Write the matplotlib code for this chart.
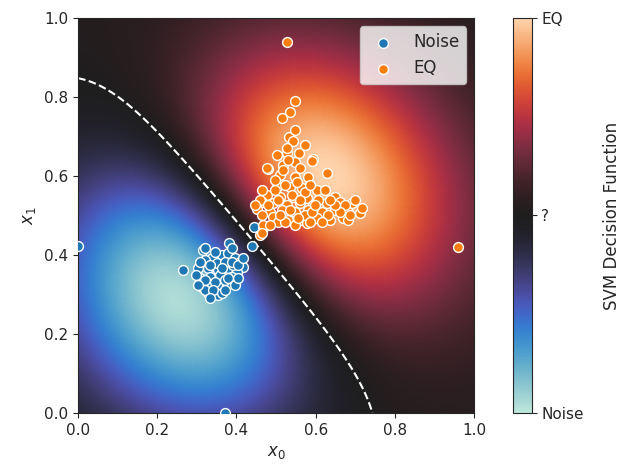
import numpy as np
import matplotlib.pyplot as plt
import seaborn as sns

sns.set_style("ticks")

# Noise samples (x0, x1)
noise_x0 = [0.381, 0.439, 0.444, 0.265, 0.316, 0.338, 0.364, 0.379, 0.396, 0.409, 0.417,
            0.303, 0.328, 0.354, 0.379, 0.402, 0.308, 0.333, 0.359, 0.389, 0.313, 0.338,
            0.351, 0.364, 0.376, 0.328, 0.354, 0.346, 0.371, 0.321, 0.351, 0.371, 0.391,
            0.000, 0.371,
            0.321, 0.346, 0.389, 0.308, 0.333, 0.364, 0.389, 0.404, 0.298, 0.321, 0.379,
            0.396, 0.321, 0.341, 0.364, 0.333, 0.417, 0.303, 0.371, 0.404]
noise_x1 = [0.430, 0.423, 0.471, 0.362, 0.413, 0.392, 0.400, 0.405, 0.392, 0.382, 0.370,
            0.367, 0.367, 0.362, 0.367, 0.357, 0.342, 0.344, 0.349, 0.344, 0.319, 0.324,
            0.316, 0.319, 0.324, 0.304, 0.299, 0.332, 0.337, 0.387, 0.380, 0.382, 0.375,
            0.423, 0.000,
            0.418, 0.408, 0.418, 0.382, 0.375, 0.367, 0.382, 0.375, 0.349, 0.337, 0.342,
            0.324, 0.311, 0.311, 0.304, 0.291, 0.392, 0.324, 0.311, 0.342]

# EQ samples (x0, x1)
eq_x0 = [0.528, 0.960, 0.548, 0.535, 0.515, 0.533, 0.543, 0.528, 0.503, 0.558, 0.593,
         0.591, 0.629, 0.480, 0.518, 0.548, 0.510, 0.548, 0.581, 0.503, 0.535, 0.566,
         0.604, 0.477, 0.510, 0.543, 0.578, 0.649, 0.465, 0.492, 0.528, 0.561, 0.593,
         0.629, 0.662, 0.692, 0.452, 0.485, 0.515, 0.548, 0.581, 0.616, 0.649, 0.682,
         0.712, 0.492, 0.530, 0.566, 0.604, 0.636, 0.669, 0.505, 0.578, 0.467, 0.460,
         0.682, 0.477, 0.460, 0.467, 0.465,
         0.497, 0.523, 0.553, 0.573, 0.606, 0.674, 0.699, 0.717, 0.480, 0.505, 0.535,
         0.573, 0.591, 0.631, 0.662, 0.523, 0.548, 0.616, 0.465, 0.485, 0.518, 0.561,
         0.530, 0.573, 0.528, 0.548, 0.540, 0.586, 0.624, 0.649, 0.561, 0.598, 0.497,
         0.465, 0.447, 0.636, 0.687, 0.556, 0.586, 0.510]
eq_x1 = [0.939, 0.420, 0.790, 0.762, 0.747, 0.699, 0.689, 0.658, 0.653, 0.658, 0.643,
         0.638, 0.608, 0.618, 0.628, 0.635, 0.603, 0.597, 0.597, 0.572, 0.572, 0.570,
         0.565, 0.552, 0.547, 0.547, 0.544, 0.547, 0.534, 0.532, 0.527, 0.532, 0.527,
         0.532, 0.534, 0.532, 0.516, 0.509, 0.514, 0.509, 0.514, 0.509, 0.514, 0.509,
         0.506, 0.496, 0.489, 0.489, 0.494, 0.489, 0.494, 0.484, 0.481, 0.468, 0.451,
         0.489, 0.620, 0.539, 0.476, 0.456,
         0.565, 0.577, 0.585, 0.559, 0.539, 0.527, 0.539, 0.519, 0.527, 0.539, 0.514,
         0.501, 0.509, 0.501, 0.509, 0.484, 0.476, 0.484, 0.501, 0.476, 0.615, 0.620,
         0.641, 0.678, 0.671, 0.716, 0.552, 0.577, 0.565, 0.527, 0.539, 0.527, 0.590,
         0.565, 0.527, 0.539, 0.501, 0.494, 0.484, 0.501]

# fit a small RBF SVM (dual coordinate ascent, bias folded into the kernel)
X = np.column_stack([noise_x0 + eq_x0, noise_x1 + eq_x1])
y = np.array([-1.0] * len(noise_x0) + [1.0] * len(eq_x0))
gamma, C, n_sweeps = 8.0, 3.0, 300

def kern(A, B):
    d = ((A[:, None, :] - B[None, :, :]) ** 2).sum(-1)
    return np.exp(-gamma * d) + 1.0

Q = np.outer(y, y) * kern(X, X)
alpha = np.zeros(len(y))
for sweep in range(n_sweeps):
    for i in range(len(y)):
        g = 1.0 - Q[i] @ alpha
        alpha[i] = np.clip(alpha[i] + g / Q[i, i], 0.0, C)

grid = np.linspace(0, 1, 300)
gx, gy = np.meshgrid(grid, grid)
G = np.column_stack([gx.ravel(), gy.ravel()])
Z = (kern(G, X) @ (alpha * y)).reshape(gx.shape)
lim = np.abs(Z).max()

fig = plt.figure(figsize=(6.24, 4.72), dpi=100)
ax = fig.add_axes([0.125, 0.125, 0.635, 0.837])
cax = fig.add_axes([0.822, 0.125, 0.030, 0.837])

im = ax.imshow(Z, extent=[0, 1, 0, 1], origin="lower", cmap="icefire",
               vmin=-lim, vmax=lim, aspect="auto", interpolation="bilinear")
ax.contour(gx, gy, Z, levels=[0], colors="white", linestyles="--", linewidths=1.5)

ax.scatter(noise_x0, noise_x1, s=50, color="#1f77b4", edgecolor="white", linewidth=1, label="Noise", zorder=3)
ax.scatter(eq_x0, eq_x1, s=50, color="#ff7f0e", edgecolor="white", linewidth=1, label="EQ", zorder=3)

ax.set_xlim(0, 1)
ax.set_ylim(0, 1)
ax.set_xlabel("$x_0$", fontsize=12)
ax.set_ylabel("$x_1$", fontsize=12)
ax.tick_params(labelsize=11)
ax.legend(loc="upper right", fontsize=12, framealpha=0.8)

cb = fig.colorbar(im, cax=cax)
cb.set_ticks([-lim, 0, lim])
cb.set_ticklabels(["Noise", "?", "EQ"])
cb.ax.tick_params(labelsize=11)
cb.set_label("SVM Decision Function", fontsize=12, labelpad=14)

fig.savefig("out.png")
